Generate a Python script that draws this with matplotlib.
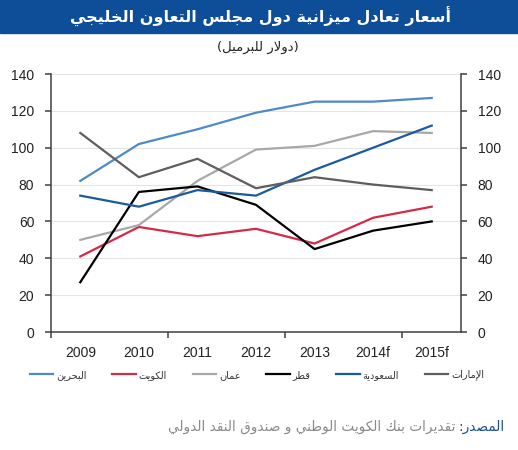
import matplotlib
matplotlib.use('Agg')
import matplotlib.pyplot as plt
from matplotlib.patches import Rectangle

# --- Arabic shaping (matplotlib has no bidi/shaping) ---
FORMS = {
    'ا': ('\uFE8D', '\uFE8E'), 'أ': ('\uFE83', '\uFE84'), 'إ': ('\uFE87', '\uFE88'),
    'آ': ('\uFE81', '\uFE82'), 'د': ('\uFEA9', '\uFEAA'), 'ذ': ('\uFEAB', '\uFEAC'),
    'ر': ('\uFEAD', '\uFEAE'), 'ز': ('\uFEAF', '\uFEB0'), 'و': ('\uFEED', '\uFEEE'),
    'ة': ('\uFE93', '\uFE94'), 'ى': ('\uFEEF', '\uFEF0'),
    'ب': ('\uFE8F', '\uFE90', '\uFE91', '\uFE92'), 'ت': ('\uFE95', '\uFE96', '\uFE97', '\uFE98'),
    'ث': ('\uFE99', '\uFE9A', '\uFE9B', '\uFE9C'), 'ج': ('\uFE9D', '\uFE9E', '\uFE9F', '\uFEA0'),
    'ح': ('\uFEA1', '\uFEA2', '\uFEA3', '\uFEA4'), 'خ': ('\uFEA5', '\uFEA6', '\uFEA7', '\uFEA8'),
    'س': ('\uFEB1', '\uFEB2', '\uFEB3', '\uFEB4'), 'ش': ('\uFEB5', '\uFEB6', '\uFEB7', '\uFEB8'),
    'ص': ('\uFEB9', '\uFEBA', '\uFEBB', '\uFEBC'), 'ض': ('\uFEBD', '\uFEBE', '\uFEBF', '\uFEC0'),
    'ط': ('\uFEC1', '\uFEC2', '\uFEC3', '\uFEC4'), 'ظ': ('\uFEC5', '\uFEC6', '\uFEC7', '\uFEC8'),
    'ع': ('\uFEC9', '\uFECA', '\uFECB', '\uFECC'), 'غ': ('\uFECD', '\uFECE', '\uFECF', '\uFED0'),
    'ف': ('\uFED1', '\uFED2', '\uFED3', '\uFED4'), 'ق': ('\uFED5', '\uFED6', '\uFED7', '\uFED8'),
    'ك': ('\uFED9', '\uFEDA', '\uFEDB', '\uFEDC'), 'ل': ('\uFEDD', '\uFEDE', '\uFEDF', '\uFEE0'),
    'م': ('\uFEE1', '\uFEE2', '\uFEE3', '\uFEE4'), 'ن': ('\uFEE5', '\uFEE6', '\uFEE7', '\uFEE8'),
    'ه': ('\uFEE9', '\uFEEA', '\uFEEB', '\uFEEC'), 'ي': ('\uFEF1', '\uFEF2', '\uFEF3', '\uFEF4'),
}
LAMALEF = {'ا': ('\uFEFB', '\uFEFC'), 'أ': ('\uFEF7', '\uFEF8'),
           'إ': ('\uFEF9', '\uFEFA'), 'آ': ('\uFEF5', '\uFEF6')}
MIRROR = {'(': ')', ')': '('}

def ar(text):
    seq = []
    i = 0
    while i < len(text):
        c = text[i]
        if c == 'ل' and i + 1 < len(text) and text[i + 1] in LAMALEF:
            seq.append(LAMALEF[text[i + 1]])
            i += 2
        else:
            seq.append(FORMS.get(c, c))
            i += 1
    out = []
    for k, f in enumerate(seq):
        if isinstance(f, str):
            out.append(MIRROR.get(f, f))
            continue
        prev = seq[k - 1] if k > 0 else None
        nxt = seq[k + 1] if k + 1 < len(seq) else None
        jp = isinstance(prev, tuple) and len(prev) == 4
        jn = len(f) == 4 and isinstance(nxt, tuple)
        if jp and jn:
            out.append(f[3])
        elif jp:
            out.append(f[1])
        elif jn:
            out.append(f[2])
        else:
            out.append(f[0])
    return ''.join(reversed(out))

# --- data ---
years = ['2009', '2010', '2011', '2012', '2013', '2014f', '2015f']
bahrain = [82, 102, 110, 119, 125, 125, 127]
kuwait = [41, 57, 52, 56, 48, 62, 68]
oman = [50, 58, 82, 99, 101, 109, 108]
qatar = [27, 76, 79, 69, 45, 55, 60]
saudi = [74, 68, 77, 74, 88, 100, 112]
uae = [108, 84, 94, 78, 84, 80, 77]

names = ['البحرين', 'الكويت', 'عمان', 'قطر', 'السعودية', 'الإمارات']
series = [bahrain, kuwait, oman, qatar, saudi, uae]
colors = ['#5089C8', '#D42A47', '#A8A8A8', '#000000', '#1B5A9C', '#5E5E5E']

title = 'أسعار تعادل ميزانية دول مجلس التعاون الخليجي'
subtitle = '(دولار للبرميل)'
src_head = 'المصدر:'
src_body = 'تقديرات بنك الكويت الوطني و صندوق النقد الدولي'

plt.rcParams['font.family'] = ['Liberation Sans', 'DejaVu Sans']

fig = plt.figure(figsize=(5.18, 4.5), dpi=100)

# title bar
fig.patches.append(Rectangle((0, 1 - 33 / 450), 1, 33 / 450, transform=fig.transFigure,
                             color='#0E4E98', zorder=0))
fig.text(0.502, 1 - 17 / 450, ar(title), color='white', fontsize=11.5, fontweight='bold',
         ha='center', va='center', family='DejaVu Sans')
fig.text(0.497, 1 - 47 / 450, ar(subtitle), color='#222222', fontsize=9.5,
         ha='center', va='center', family='DejaVu Sans')

ax = fig.add_axes([51 / 518, 1 - 332 / 450, 410 / 518, 258 / 450])
x = list(range(len(years)))
lines = []
for vals, nm, col in zip(series, names, colors):
    ln, = ax.plot(x, vals, color=col, lw=1.6, label=ar(nm), zorder=3)
    lines.append(ln)

ax.set_xlim(-0.5, 6.5)
ax.set_ylim(0, 140)
ax.set_yticks(range(0, 141, 20))
ax.set_xticks([-0.5, 1.5, 3.5, 5.5])
ax.set_xticklabels([])
ax.set_xticks(x, minor=True)
ax.set_xticklabels(years, minor=True)
ax.tick_params(axis='x', which='major', length=4, width=1.1, color='#404040', direction='out')
ax.tick_params(axis='x', which='minor', length=0, pad=10, labelsize=10, labelcolor='#222222')
ax.tick_params(axis='y', length=4, width=1.1, color='#404040', direction='out',
               left=True, right=True, labelleft=True, labelright=True,
               labelsize=10, labelcolor='#222222', pad=8)
ax.grid(axis='y', color='#E4E4E4', lw=0.8, zorder=0)
ax.spines['top'].set_visible(False)
for s in ['left', 'right', 'bottom']:
    ax.spines[s].set_color('#404040')
    ax.spines[s].set_linewidth(1.1)

leg = fig.legend(handles=lines, loc='center', bbox_to_anchor=(0.496, 1 - 375 / 450), ncol=6,
                 frameon=False, handlelength=2.4, handletextpad=0.3, columnspacing=2.65,
                 prop={'family': 'DejaVu Sans', 'size': 7})
for t in leg.get_texts():
    t.set_color('#333333')

# source line: blue head at right, grey body to its left
head = fig.text(505 / 518, 1 - 427 / 450, ar(src_head), color='#1B4F93', fontsize=9.8,
                ha='right', va='center', family='DejaVu Sans')
fig.canvas.draw()
bb = head.get_window_extent(fig.canvas.get_renderer())
xl = fig.transFigure.inverted().transform((bb.x0 - 3, 0))[0]
fig.text(xl, 1 - 427 / 450, ar(src_body), color='#8A8A8A', fontsize=9.8,
         ha='right', va='center', family='DejaVu Sans')

fig.savefig('out.png', dpi=100)
